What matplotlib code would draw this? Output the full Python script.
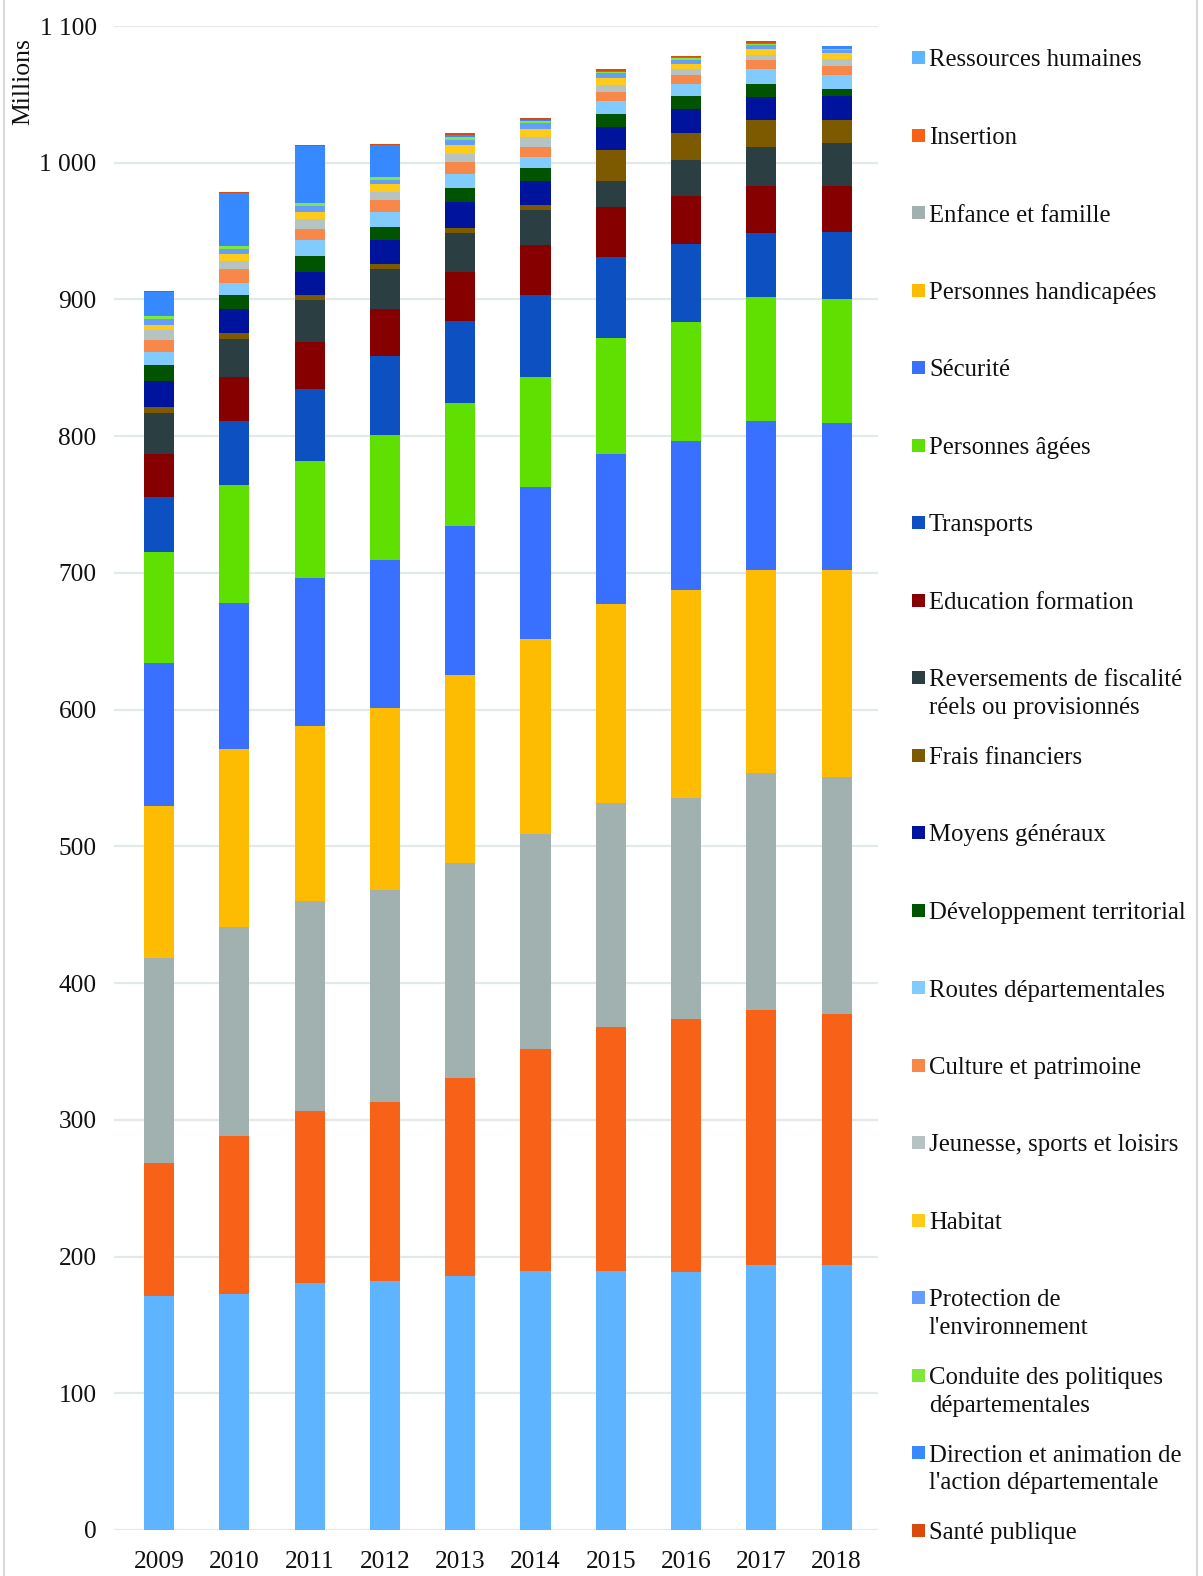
import matplotlib
matplotlib.use("Agg")
import matplotlib.pyplot as plt
from matplotlib.patches import Rectangle
from matplotlib.lines import Line2D
import numpy as np

plt.rcParams['font.family'] = ['Liberation Serif', 'DejaVu Serif']

years = ["2009", "2010", "2011", "2012", "2013", "2014", "2015", "2016", "2017", "2018"]

categories = [
    "Ressources humaines", "Insertion", "Enfance et famille", "Personnes handicapées",
    "Sécurité", "Personnes âgées", "Transports", "Education formation",
    "Reversements de fiscalité\nréels ou provisionnés", "Frais financiers",
    "Moyens généraux", "Développement territorial", "Routes départementales",
    "Culture et patrimoine", "Jeunesse, sports et loisirs", "Habitat",
    "Protection de\nl'environnement", "Conduite des politiques\ndépartementales",
    "Direction et animation de\nl'action départementale", "Santé publique",
]

ressources_humaines = [170.9, 172.6, 180.6, 182.3, 186.0, 189.4, 189.4, 188.4, 193.8, 193.8]
insertion = [97.5, 115.3, 126.0, 130.4, 144.5, 162.3, 178.4, 185.2, 186.5, 183.8]
enfance_famille = [149.9, 153.3, 153.4, 155.3, 157.0, 157.0, 164.1, 161.9, 173.0, 172.8]
personnes_handicapees = [110.9, 129.7, 127.9, 133.1, 137.5, 142.9, 145.5, 151.7, 148.7, 151.6]
securite = [104.8, 107.2, 108.3, 108.2, 109.2, 111.1, 109.9, 109.1, 109.0, 107.5]
personnes_agees = [81.4, 86.1, 85.7, 91.4, 90.2, 80.5, 84.6, 87.4, 90.6, 90.5]
transports = [39.8, 47.0, 52.5, 57.6, 59.7, 60.1, 59.0, 56.9, 47.1, 49.7]
education_formation = [32.1, 31.9, 34.6, 34.6, 36.0, 36.6, 36.6, 34.9, 34.6, 33.6]
reversements = [30.0, 28.3, 30.7, 29.2, 28.3, 25.6, 19.5, 26.5, 28.2, 31.0]
frais_financiers = [4.4, 4.4, 3.6, 3.5, 3.7, 3.7, 22.1, 19.6, 19.6, 16.8]
moyens_generaux = [18.7, 17.1, 17.1, 17.9, 19.0, 17.8, 16.9, 17.5, 17.0, 17.8]
developpement_territorial = [11.5, 10.6, 11.4, 9.6, 10.5, 8.8, 9.7, 9.8, 9.6, 5.1]
routes = [9.7, 8.6, 11.5, 10.7, 9.8, 8.7, 9.8, 8.8, 10.7, 9.8]
culture = [9.1, 10.0, 8.1, 8.8, 9.0, 7.3, 6.3, 6.3, 6.4, 7.1]
jeunesse = [6.8, 6.1, 7.1, 6.1, 6.0, 6.8, 5.1, 4.4, 4.3, 4.9]
habitat = [3.7, 5.4, 5.3, 5.6, 6.2, 6.4, 5.4, 3.7, 4.4, 4.4]
protection_env = [4.4, 3.4, 4.4, 3.4, 4.3, 3.7, 3.4, 3.2, 2.4, 2.2]
conduite = [2.2, 2.0, 2.0, 1.9, 1.9, 1.6, 1.0, 1.0, 1.0, 1.1]
direction = [17.3, 38.5, 42.1, 23.4, 1.5, 1.3, 0.7, 0.9, 1.0, 1.7]
sante_publique = [1.2, 0.9, 1.0, 1.0, 1.3, 1.0, 1.0, 1.2, 0.9, 0.3]

series = [ressources_humaines, insertion, enfance_famille, personnes_handicapees, securite,
          personnes_agees, transports, education_formation, reversements, frais_financiers,
          moyens_generaux, developpement_territorial, routes, culture, jeunesse, habitat,
          protection_env, conduite, direction, sante_publique]

colors = ["#5FB4FF", "#F76218", "#A0B1AF", "#FDBC02", "#3A70FF", "#5FE000", "#0C50C2",
          "#870000", "#2B3E41", "#7D5A00", "#00139C", "#005400", "#82CBFF", "#F8874A",
          "#B5C4C3", "#FFCB1B", "#659DFF", "#7FE83A", "#3789FF", "#DA4A0C"]

yticks = [0, 100, 200, 300, 400, 500, 600, 700, 800, 900, 1000, 1100]

W, H = 1203, 1576
fig = plt.figure(figsize=(W / 100, H / 100), dpi=100)
ax = fig.add_axes([114 / W, 1 - 1530 / H, (878 - 114) / W, (1530 - 26) / H])

x = np.arange(len(years))
bottom = np.zeros(len(years))
for vals, col in zip(series, colors):
    v = np.array(vals)
    ax.bar(x, v, width=0.4, bottom=bottom, color=col, linewidth=0, zorder=3)
    bottom += v

ax.set_xlim(-0.6, 9.55)
ax.set_ylim(0, 1100)
ax.set_yticks(yticks)
ax.set_yticklabels([f"{t:,}".replace(",", " ") for t in yticks])
ax.set_xticks(x)
ax.set_xticklabels(years)
ax.tick_params(axis='both', length=0, labelsize=18.3, colors="#111111")
ax.tick_params(axis='y', pad=12.5)
ax.tick_params(axis='x', pad=15)
ax.grid(axis='y', color="#E3E8E8", linewidth=1.6, zorder=0)
for s in ax.spines.values():
    s.set_visible(False)

fig.text(23 / W, 1 - 82 / H, "Millions", rotation=90, ha='center', va='center',
         fontsize=18.5, color="#111111")

# legend (drawn manually to match slot layout)
y0 = 57.5
step = 77.5
for i, (lab, col) in enumerate(zip(categories, colors)):
    yc = y0 + i * step
    fig.patches.append(Rectangle((912 / W, 1 - (yc + 6.5) / H), 13 / W, 13 / H,
                                 transform=fig.transFigure, facecolor=col,
                                 edgecolor='none'))
    fig.text(929 / W, 1 - (yc - 8) / H, lab, ha='left', va='top', fontsize=17.8,
             color="#111111", linespacing=1.35)

# chart-area border lines
fig.add_artist(Line2D([4 / W, 4 / W], [0, 1], transform=fig.transFigure,
                      color="#D9D9D9", linewidth=1.5))
fig.add_artist(Line2D([1197 / W, 1197 / W], [0, 1], transform=fig.transFigure,
                      color="#D9D9D9", linewidth=1.5))

fig.savefig("out.png", dpi=100)
